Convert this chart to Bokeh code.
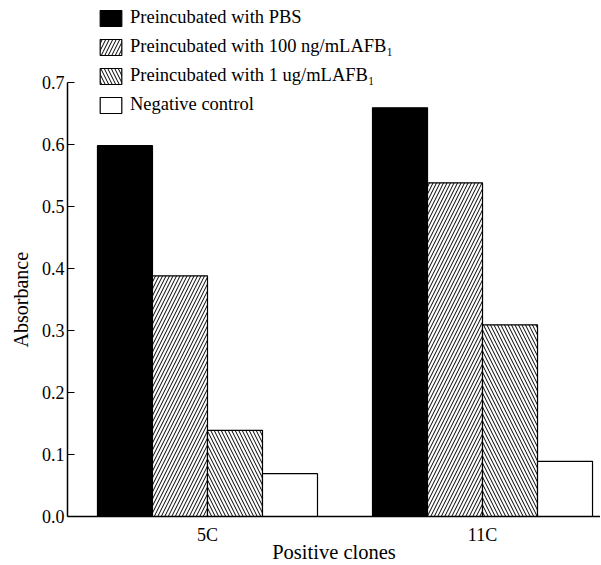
from bokeh.plotting import figure
from bokeh.models import Range1d, FixedTicker, Legend, LegendItem, Title, ColumnDataSource
from bokeh.embed import file_html
from bokeh.resources import INLINE

groups = ["5C", "11C"]
series_names = [
    "Preincubated with PBS",
    "Preincubated with 100 ng/mLAFB\u2081",
    "Preincubated with 1 ug/mLAFB\u2081",
    "Negative control",
]
pbs = [0.598, 0.659]
ng100 = [0.388, 0.538]
ug1 = [0.139, 0.309]
neg = [0.069, 0.089]
y_ticks = [0.0, 0.1, 0.2, 0.3, 0.4, 0.5, 0.6, 0.7]

FONT = "Liberation Serif"
W, H = 600, 565

p = figure(width=W, height=H, output_backend="svg", toolbar_location=None,
           x_range=Range1d(0.491, 2.429), y_range=Range1d(0, 0.832),
           min_border_left=67, min_border_right=0, min_border_top=0,
           min_border_bottom=48)
p.outline_line_color = None
p.grid.visible = False
p.background_fill_color = "white"

centers = [1, 2]
offsets = [-0.3, -0.1, 0.1, 0.3]
styles = [
    dict(fill_color="black", hatch_pattern=None),
    dict(fill_color="white", hatch_pattern="/"),
    dict(fill_color="white", hatch_pattern="\\"),
    dict(fill_color="white", hatch_pattern=None),
]
renderers = []
for vals, off, st in zip([pbs, ng100, ug1, neg], offsets, styles):
    src = ColumnDataSource(dict(x=[c + off for c in centers], top=vals))
    kw = dict(x="x", top="top", width=0.2, bottom=0, source=src,
              fill_color=st["fill_color"], line_color="black", line_width=1.2)
    if st["hatch_pattern"]:
        kw.update(hatch_pattern=st["hatch_pattern"], hatch_color="black",
                  hatch_scale=7, hatch_weight=1)
    renderers.append(p.vbar(**kw))

# axes
xa = p.xaxis[0]
xa.ticker = FixedTicker(ticks=centers)
xa.major_label_overrides = {1: groups[0], 2: groups[1]}
xa.major_tick_in = 0
xa.major_tick_out = 0
xa.minor_tick_line_color = None
xa.axis_line_color = "black"
xa.axis_line_width = 1.5
xa.major_label_text_font = FONT
xa.major_label_text_font_size = "18px"
xa.major_label_text_color = "black"
xa.major_label_standoff = 8
xa.axis_label = "Positive clones"
xa.axis_label_text_font = FONT
xa.axis_label_text_font_size = "20.5px"
xa.axis_label_text_font_style = "normal"
xa.axis_label_text_color = "black"
xa.axis_label_standoff = -7

ya = p.yaxis[0]
ya.ticker = FixedTicker(ticks=y_ticks)
ya.bounds = (0, 0.7)
ya.major_label_overrides = {t: f"{t:.1f}" for t in y_ticks}
ya.major_tick_in = 7
ya.major_tick_out = 0
ya.minor_tick_line_color = None
ya.axis_line_color = "black"
ya.axis_line_width = 1.5
ya.major_tick_line_width = 1.2
ya.major_label_text_font = FONT
ya.major_label_text_font_size = "18px"
ya.major_label_text_color = "black"
ya.major_label_standoff = 3

tkw = dict(text="Absorbance", align="left", offset=169,
           text_font=FONT, text_font_size="20px", text_font_style="normal",
           text_color="black")
if "standoff" in Title.properties():
    tkw["standoff"] = 13
ytitle = Title(**tkw)
p.add_layout(ytitle, "left")

legend = Legend(items=[LegendItem(label=n, renderers=[r]) for n, r in zip(series_names, renderers)],
                location=(30, 401), orientation="vertical",
                padding=0, margin=0, spacing=8,
                glyph_width=27, glyph_height=20, label_height=20,
                label_standoff=6,
                label_text_font=FONT, label_text_font_size="18.5px",
                label_text_color="black",
                border_line_color=None, background_fill_alpha=0)
p.add_layout(legend)

open("out.html", "w").write(file_html(p, INLINE))
